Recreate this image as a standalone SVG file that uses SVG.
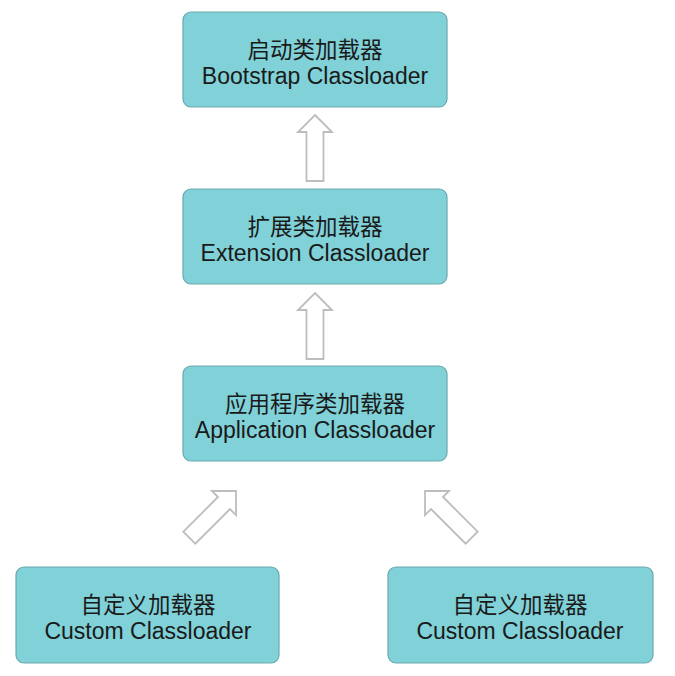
<svg xmlns="http://www.w3.org/2000/svg" width="675" height="676" viewBox="0 0 675 676">
<defs>
<style>
.box{fill:#80d1d8;stroke:#6ca9ae;stroke-width:1.2}
.t{font-family:"Liberation Sans","Noto Sans CJK SC",sans-serif;font-size:22.5px;fill:#1a1a1a;text-anchor:middle}
.e{font-family:"Liberation Sans","Noto Sans CJK SC",sans-serif;font-size:23px;fill:#1a1a1a;text-anchor:middle}
.arr{fill:#ffffff;stroke:#bdbdbd;stroke-width:1.8;stroke-linejoin:miter}
</style>
<path id="arrow" d="M0,0 L17,17 L8.5,17 L8.5,66 L-8.5,66 L-8.5,17 L-17,17 Z"/>
</defs>
<rect width="675" height="676" fill="#ffffff"/>
<g id="connectors">
<use href="#arrow" class="arr" transform="translate(315,115)"/>
<use href="#arrow" class="arr" transform="translate(315,293)"/>
<use href="#arrow" class="arr" transform="translate(236,491) rotate(45)"/>
<use href="#arrow" class="arr" transform="translate(425,491) rotate(-45)"/>
</g>
<g id="bootstrap">
<rect class="box" x="183" y="12" width="264" height="95" rx="8"/>
<text class="t" x="315" y="58">启动类加载器</text>
<text class="e" x="315" y="84">Bootstrap Classloader</text>
</g>
<g id="extension">
<rect class="box" x="183" y="189" width="264" height="95" rx="8"/>
<text class="t" x="315" y="235">扩展类加载器</text>
<text class="e" x="315" y="261">Extension Classloader</text>
</g>
<g id="application">
<rect class="box" x="183" y="366" width="264" height="95" rx="8"/>
<text class="t" x="315" y="412">应用程序类加载器</text>
<text class="e" x="315" y="438">Application Classloader</text>
</g>
<g id="custom1">
<rect class="box" x="16" y="567" width="263" height="96" rx="8"/>
<text class="t" x="148" y="613">自定义加载器</text>
<text class="e" x="148" y="639">Custom Classloader</text>
</g>
<g id="custom2">
<rect class="box" x="388" y="567" width="265" height="96" rx="8"/>
<text class="t" x="520" y="613">自定义加载器</text>
<text class="e" x="520" y="639">Custom Classloader</text>
</g>
</svg>
